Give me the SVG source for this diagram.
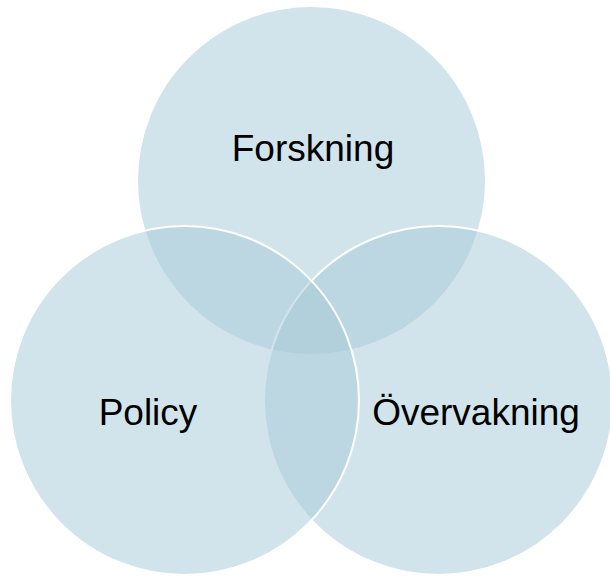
<svg xmlns="http://www.w3.org/2000/svg" width="610" height="577" viewBox="0 0 610 577">
<style>
.c{fill:#a5c9d8;fill-opacity:0.5;stroke:#ffffff;stroke-width:2}
.t{font-family:"Liberation Sans",Arial,sans-serif;font-size:37px;fill:#000000;text-anchor:middle}
</style>
<rect width="610" height="577" fill="#ffffff"/>
<g id="forskning">
<circle class="c" cx="311.5" cy="180.5" r="174.5"/>
</g>
<g id="overvakning">
<circle class="c" cx="438.5" cy="400.5" r="174.5"/>
</g>
<g id="policy">
<circle class="c" cx="184.5" cy="400.5" r="174.5"/>
</g>
<g id="labels">
<text class="t" x="313" y="161">Forskning</text>
<text class="t" x="148" y="425">Policy</text>
<text class="t" x="476" y="425">Övervakning</text>
</g>
<g id="connectors"/>
</svg>
